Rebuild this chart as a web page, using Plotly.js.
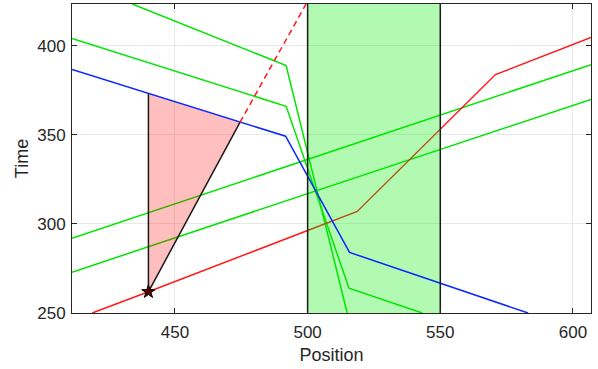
<!DOCTYPE html>
<html>
<head>
<meta charset="utf-8">
<script src="https://cdn.plot.ly/plotly-3.0.1.min.js"></script>
<style>html,body{margin:0;padding:0;background:#fff;}#chart{width:598px;height:369px;}</style>
</head>
<body>
<div id="chart"></div>
<script>
// Axis ranges
const xRange = [411.2, 606.8];
const yRange = [250, 423.4];

// Descending green trajectories
const greenAX = [433.9, 491.9, 514.9];
const greenAY = [423.4, 388.9, 250];
const greenBX = [411.2, 491.9, 515.6, 543.2];
const greenBY = [404.0, 366.0, 263.9, 250];
// Ascending green trajectories
const greenCX = [411.2, 606.8];
const greenCY = [291.9, 389.4];
const greenDX = [411.2, 606.8];
const greenDY = [272.9, 369.9];
// Blue trajectory
const blueX = [411.2, 491.7, 515.8, 583.1];
const blueY = [386.6, 349.2, 284.0, 250];
// Red trajectory
const redX = [418.8, 440, 500, 518.7, 570.8, 606.8];
const redY = [250, 261.9, 296.3, 307.0, 383.8, 404.6];
// Shaded zone
const zoneX = [500, 550];
// Triangle (star point, blue at 440, blue at black-line end)
const triX = [440, 440, 474.5];
const triY = [261.9, 373.0, 357.0];
// Red dashed extension
const dashX = [474.5, 499.4];
const dashY = [357.0, 423.4];
// Star
const starX = [440];
const starY = [261.9];

const GREEN = 'rgb(0,230,0)';
const RED = 'rgb(255,25,25)';
const BLUE = 'rgb(10,40,255)';
const LW = 1.5;

function line(x, y, color, extra) {
  return Object.assign({x: x, y: y, mode: 'lines', type: 'scatter',
    line: {color: color, width: LW}, hoverinfo: 'skip', showlegend: false}, extra || {});
}

const traces = [
  line(greenAX, greenAY, GREEN),
  line(greenBX, greenBY, GREEN),
  line(greenCX, greenCY, GREEN),
  line(greenDX, greenDY, GREEN),
  line(redX, redY, RED),
  // green zone fill
  {x: [zoneX[0], zoneX[1], zoneX[1], zoneX[0]], y: [yRange[0], yRange[0], yRange[1], yRange[1]],
   type: 'scatter', mode: 'none', fill: 'toself', fillcolor: 'rgba(0,235,0,0.3)',
   hoverinfo: 'skip', showlegend: false},
  // pink triangle fill
  {x: triX, y: triY, type: 'scatter', mode: 'none', fill: 'toself',
   fillcolor: 'rgba(255,0,0,0.25)', hoverinfo: 'skip', showlegend: false},
  line(blueX, blueY, BLUE),
  // zone borders
  line([zoneX[0], zoneX[0]], yRange, '#1a1a1a'),
  line([zoneX[1], zoneX[1]], yRange, '#1a1a1a'),
  // triangle black edges
  line([triX[0], triX[1]], [triY[0], triY[1]], '#1a1a1a'),
  line([triX[0], triX[2]], [triY[0], triY[2]], '#1a1a1a'),
  // red dashed
  line(dashX, dashY, RED, {line: {color: RED, width: LW, dash: '6px,4px'}}),
  // star marker
  {x: starX, y: starY, type: 'scatter', mode: 'markers',
   marker: {symbol: 'star', size: 10, color: '#5a0000', line: {color: '#000', width: 1}},
   hoverinfo: 'skip', showlegend: false}
];

const axisCommon = {
  showline: true, linecolor: '#262626', linewidth: 1, mirror: 'ticks',
  ticks: 'inside', ticklen: 5, tickcolor: '#262626', tickwidth: 1,
  showgrid: true, gridcolor: 'rgb(232,232,232)', gridwidth: 1,
  zeroline: false, tickfont: {family: 'Liberation Sans, Arial, sans-serif', size: 17, color: '#262626'},
  fixedrange: true
};

const layout = {
  width: 598, height: 369,
  margin: {l: 72, r: 6.7, t: 4.3, b: 55.5},
  paper_bgcolor: '#fff', plot_bgcolor: '#fff',
  xaxis: Object.assign({}, axisCommon, {
    range: xRange, tickvals: [450, 500, 550, 600], ticklabelstandoff: 4,
    title: {text: 'Position', standoff: 6, font: {family: 'Liberation Sans, Arial, sans-serif', size: 18, color: '#262626'}}
  }),
  yaxis: Object.assign({}, axisCommon, {
    range: yRange, tickvals: [250, 300, 350, 400], ticklabelstandoff: 2,
    title: {text: 'Time', standoff: 3, font: {family: 'Liberation Sans, Arial, sans-serif', size: 18, color: '#262626'}}
  }),
  showlegend: false
};

Plotly.newPlot('chart', traces, layout, {displayModeBar: false, staticPlot: true});
</script>
</body>
</html>
